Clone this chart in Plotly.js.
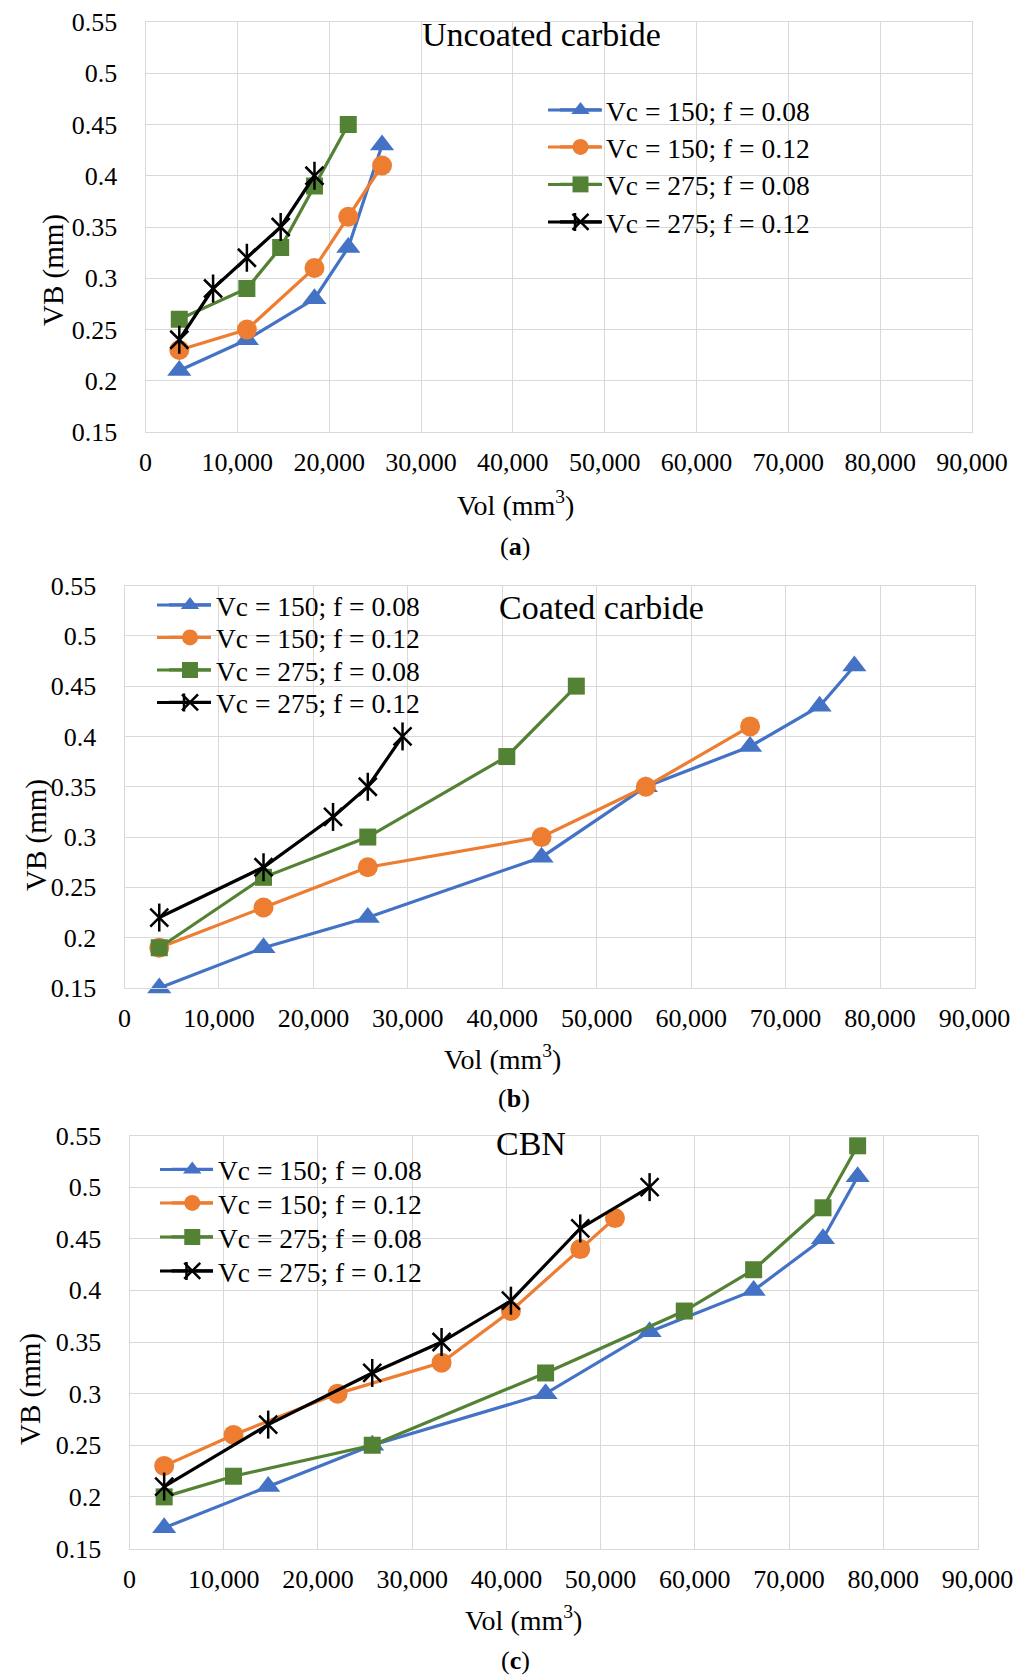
<!DOCTYPE html>
<html>
<head>
<meta charset="utf-8">
<script src="https://cdn.plot.ly/plotly-3.0.1.min.js"></script>
<style>
  html, body { margin: 0; padding: 0; background: #ffffff; }
  #chart { width: 1027px; height: 1677px; }
</style>
</head>
<body>
<div id="chart"></div>
<script>
// Flank wear VB (mm) against removed volume (mm³) for three tool materials.
const seriesNames = ['Vc = 150; f = 0.08', 'Vc = 150; f = 0.12', 'Vc = 275; f = 0.08', 'Vc = 275; f = 0.12'];
const panelTitles = ['Uncoated carbide', 'Coated carbide', 'CBN'];
const panelTags = ['a', 'b', 'c'];
const xTickVals = [0, 10000, 20000, 30000, 40000, 50000, 60000, 70000, 80000, 90000];
const yTickVals = [0.15, 0.2, 0.25, 0.3, 0.35, 0.4, 0.45, 0.5, 0.55];

// (a) Uncoated carbide
const uncVol_150_008 = [3680, 11040, 18400, 22080, 25760];
const uncVB_150_008  = [0.21, 0.24, 0.28, 0.33, 0.43];
const uncVol_150_012 = [3680, 11040, 18400, 22080, 25760];
const uncVB_150_012  = [0.23, 0.25, 0.31, 0.36, 0.41];
const uncVol_275_008 = [3680, 11040, 14720, 18400, 22080];
const uncVB_275_008  = [0.26, 0.29, 0.33, 0.39, 0.45];
const uncVol_275_012 = [3680, 7360, 11040, 14720, 18400];
const uncVB_275_012  = [0.24, 0.29, 0.32, 0.35, 0.40];

// (b) Coated carbide
const coaVol_150_008 = [3680, 14720, 25760, 44160, 55200, 66240, 73600, 77280];
const coaVB_150_008  = [0.15, 0.19, 0.22, 0.28, 0.35, 0.39, 0.43, 0.47];
const coaVol_150_012 = [3680, 14720, 25760, 44160, 55200, 66240];
const coaVB_150_012  = [0.19, 0.23, 0.27, 0.30, 0.35, 0.41];
const coaVol_275_008 = [3680, 14720, 25760, 40480, 47840];
const coaVB_275_008  = [0.19, 0.26, 0.30, 0.38, 0.45];
const coaVol_275_012 = [3680, 14720, 22080, 25760, 29440];
const coaVB_275_012  = [0.22, 0.27, 0.32, 0.35, 0.40];

// (c) CBN
const cbnVol_150_008 = [3680, 14720, 25760, 44160, 55200, 66240, 73600, 77280];
const cbnVB_150_008  = [0.17, 0.21, 0.25, 0.30, 0.36, 0.40, 0.45, 0.51];
const cbnVol_150_012 = [3680, 11040, 22080, 33120, 40480, 47840, 51520];
const cbnVB_150_012  = [0.23, 0.26, 0.30, 0.33, 0.38, 0.44, 0.47];
const cbnVol_275_008 = [3680, 11040, 25760, 44160, 58880, 66240, 73600, 77280];
const cbnVB_275_008  = [0.20, 0.22, 0.25, 0.32, 0.38, 0.42, 0.48, 0.54];
const cbnVol_275_012 = [3680, 14720, 25760, 33120, 40480, 47840, 55200];
const cbnVB_275_012  = [0.21, 0.27, 0.32, 0.35, 0.39, 0.46, 0.50];

const panels = [
  [[uncVol_150_008, uncVB_150_008], [uncVol_150_012, uncVB_150_012], [uncVol_275_008, uncVB_275_008], [uncVol_275_012, uncVB_275_012]],
  [[coaVol_150_008, coaVB_150_008], [coaVol_150_012, coaVB_150_012], [coaVol_275_008, coaVB_275_008], [coaVol_275_012, coaVB_275_012]],
  [[cbnVol_150_008, cbnVB_150_008], [cbnVol_150_012, cbnVB_150_012], [cbnVol_275_008, cbnVB_275_008], [cbnVol_275_012, cbnVB_275_012]]
];

const W = 1027, H = 1677;
const px = v => v / W;
const py = v => 1 - v / H;

const colors = ['#4472C4', '#ED7D31', '#548235', '#000000'];
const symbols = ['triangle-up', 'circle', 'square', 'x-thin-open'];
const sizes = [21, 20, 17, 18];

// Plot-area boxes in pixels: [left, right, top, bottom]
const boxes = [
  [145.5, 972, 22, 432],
  [124.5, 974.5, 585.5, 988],
  [129.5, 977.5, 1135.5, 1548.5]
];
// Legend key geometry in pixels: sample line start/end, text start, row centres
const keyLineStart = [548, 157, 160];
const keyLineEnd   = [602, 211, 213];
const keyTextStart = [606, 216, 218];
const legendRows = [
  [110, 147, 184.5, 222],
  [605, 637.5, 670, 702.5],
  [1169.5, 1203, 1237, 1271]
];
const titlePos  = [[541, 35], [601, 607], [531, 1143]];
const xTitlePos = [[515, 503], [502, 1057], [523, 1618]];
const yTitlePos = [[54, 270], [36, 835], [30, 1389]];
const tagPos    = [[515, 546], [514, 1098], [515, 1660]];

const FONT = '"Liberation Serif", "Times New Roman", serif';
const traces = [];
const layout = {
  width: W, height: H,
  margin: {l: 0, r: 0, t: 0, b: 0},
  paper_bgcolor: '#ffffff',
  plot_bgcolor: '#ffffff',
  font: {family: FONT, color: '#000000', size: 26},
  annotations: [],
  shapes: [],
  hovermode: false
};

panels.forEach((series, p) => {
  const ax = p === 0 ? '' : String(p + 1);
  const [l, r, t, b] = boxes[p];
  layout['xaxis' + ax] = {
    domain: [px(l), px(r)],
    anchor: 'y' + ax,
    range: [0, 90000],
    tickvals: xTickVals,
    tickformat: ',d',
    ticks: '',
    ticklabelstandoff: 7,
    showgrid: true, gridcolor: '#d9d9d9', gridwidth: 1,
    showline: true, linecolor: '#d9d9d9', linewidth: 1, mirror: true,
    zeroline: false,
    tickfont: {family: FONT, size: 26, color: '#000000'},
    fixedrange: true
  };
  layout['yaxis' + ax] = {
    domain: [py(b), py(t)],
    anchor: 'x' + ax,
    range: [0.15, 0.55],
    tickvals: yTickVals,
    ticks: '',
    ticklabelstandoff: 22,
    showgrid: true, gridcolor: '#d9d9d9', gridwidth: 1,
    showline: true, linecolor: '#d9d9d9', linewidth: 1, mirror: true,
    zeroline: false,
    tickfont: {family: FONT, size: 26, color: '#000000'},
    fixedrange: true
  };

  // the legend symbol sits 20px right of the legend's left edge; text follows after itemwidth + 10
  const keyMid = (keyLineStart[p] + keyLineEnd[p]) / 2;
  const legendX0 = keyMid - 20;
  const itemW = Math.max(30, keyTextStart[p] - 10 - legendX0);

  series.forEach(([vol, vb], s) => {
    const legendId = 'legend' + (p * 4 + s === 0 ? '' : String(p * 4 + s + 1));
    traces.push({
      type: 'scatter', mode: 'lines+markers',
      name: seriesNames[s],
      x: vol, y: vb,
      xaxis: 'x' + ax, yaxis: 'y' + ax,
      legend: legendId,
      line: {color: colors[s], width: 3.2},
      marker: {
        symbol: symbols[s], size: sizes[s], color: colors[s],
        line: {color: colors[s], width: s === 3 ? 2.5 : 0}
      },
      cliponaxis: false
    });
    if (s === 3) {
      // vertical stroke that turns the x marker into a six-armed star
      traces.push({
        type: 'scatter', mode: 'markers',
        x: vol, y: vb,
        xaxis: 'x' + ax, yaxis: 'y' + ax,
        showlegend: false,
        marker: {symbol: 'line-ns-open', size: 20, color: colors[s], line: {color: colors[s], width: 2.5}},
        cliponaxis: false
      });
    }
    layout[legendId] = {
      x: px(legendX0), y: py(legendRows[p][s]),
      xanchor: 'left', yanchor: 'middle',
      itemwidth: itemW,
      bgcolor: 'rgba(0,0,0,0)', borderwidth: 0,
      font: {family: FONT, size: 27.5, color: '#000000'},
      itemclick: false, itemdoubleclick: false
    };
    // longer key line behind the legend symbol
    layout.shapes.push({
      type: 'line', xref: 'paper', yref: 'paper', layer: 'above',
      x0: px(keyLineStart[p]), x1: px(keyLineEnd[p]),
      y0: py(legendRows[p][s]), y1: py(legendRows[p][s]),
      line: {color: colors[s], width: 3.2}
    });
    if (s === 3) {
      layout.shapes.push({
        type: 'line', xref: 'paper', yref: 'paper', layer: 'above',
        x0: px(keyMid), x1: px(keyMid),
        y0: py(legendRows[p][s] - 9), y1: py(legendRows[p][s] + 9),
        line: {color: colors[s], width: 2.5}
      });
    }
  });

  layout.annotations.push(
    {xref: 'paper', yref: 'paper', x: px(titlePos[p][0]), y: py(titlePos[p][1]),
     xanchor: 'center', yanchor: 'middle', showarrow: false,
     text: panelTitles[p], font: {family: FONT, size: 34, color: '#000000'}},
    {xref: 'paper', yref: 'paper', x: px(xTitlePos[p][0]), y: py(xTitlePos[p][1]),
     xanchor: 'center', yanchor: 'middle', showarrow: false,
     text: 'Vol (mm<sup>3</sup>)', font: {family: FONT, size: 28, color: '#000000'}},
    {xref: 'paper', yref: 'paper', x: px(yTitlePos[p][0]), y: py(yTitlePos[p][1]),
     xanchor: 'center', yanchor: 'middle', showarrow: false, textangle: -90,
     text: 'VB (mm)', font: {family: FONT, size: 29, color: '#000000'}},
    {xref: 'paper', yref: 'paper', x: px(tagPos[p][0]), y: py(tagPos[p][1]),
     xanchor: 'center', yanchor: 'middle', showarrow: false,
     text: '(<b>' + panelTags[p] + '</b>)', font: {family: FONT, size: 26, color: '#000000'}}
  );
});

Plotly.newPlot('chart', traces, layout, {displayModeBar: false, staticPlot: true});
</script>
</body>
</html>
